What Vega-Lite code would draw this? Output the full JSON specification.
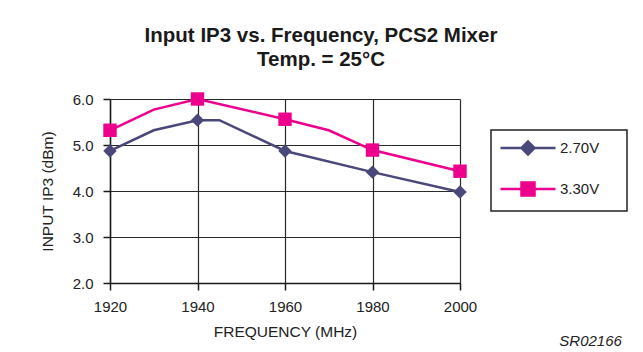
{
  "$schema": "https://vega.github.io/schema/vega-lite/v6.json",
  "width": 350,
  "height": 184,
  "autosize": {"type": "none"},
  "padding": {"left": 110, "top": 99, "right": 183, "bottom": 69},
  "background": "white",
  "title": {
    "text": ["Input IP3 vs. Frequency, PCS2 Mixer", "Temp. = 25°C"],
    "font": "Liberation Sans",
    "fontSize": 20.5,
    "fontWeight": "bold",
    "color": "#1a1a1a",
    "anchor": "middle",
    "frame": "group",
    "dx": 36,
    "offset": 22,
    "lineHeight": 24
  },
  "data": {
    "values": [
      {"series": "2.70V", "freq": 1920, "ip3": 4.87},
      {"series": "2.70V", "freq": 1930, "ip3": 5.32},
      {"series": "2.70V", "freq": 1940, "ip3": 5.54},
      {"series": "2.70V", "freq": 1945, "ip3": 5.54},
      {"series": "2.70V", "freq": 1960, "ip3": 4.87},
      {"series": "2.70V", "freq": 1980, "ip3": 4.41},
      {"series": "2.70V", "freq": 2000, "ip3": 3.98},
      {"series": "3.30V", "freq": 1920, "ip3": 5.32},
      {"series": "3.30V", "freq": 1930, "ip3": 5.77},
      {"series": "3.30V", "freq": 1940, "ip3": 6.0},
      {"series": "3.30V", "freq": 1960, "ip3": 5.56},
      {"series": "3.30V", "freq": 1970, "ip3": 5.32},
      {"series": "3.30V", "freq": 1980, "ip3": 4.89},
      {"series": "3.30V", "freq": 2000, "ip3": 4.43}
    ]
  },
  "config": {
    "font": "Liberation Sans",
    "view": {"stroke": null},
    "axis": {
      "labelFont": "Liberation Sans",
      "titleFont": "Liberation Sans",
      "labelFontSize": 15,
      "titleFontSize": 15.5,
      "titleFontWeight": "normal",
      "labelColor": "#222222",
      "titleColor": "#222222",
      "domainColor": "#1a1a1a",
      "domainWidth": 1.5,
      "tickColor": "#1a1a1a",
      "tickWidth": 1.5,
      "tickSize": 7,
      "gridColor": "#2a2a2a",
      "gridWidth": 1.2,
      "gridOpacity": 1,
      "labelFlush": false
    }
  },
  "layer": [
    {
      "mark": {"type": "line", "strokeWidth": 2.5},
      "encoding": {
        "x": {
          "field": "freq",
          "type": "quantitative",
          "scale": {"domain": [1920, 2000], "nice": false, "zero": false},
          "axis": {
            "values": [1920, 1940, 1960, 1980, 2000],
            "format": "d",
            "title": "FREQUENCY (MHz)",
            "labelPadding": 9,
            "titlePadding": 10,
            "grid": true
          }
        },
        "y": {
          "field": "ip3",
          "type": "quantitative",
          "scale": {"domain": [2, 6], "nice": false, "zero": false},
          "axis": {
            "values": [2, 3, 4, 5, 6],
            "format": ".1f",
            "title": "INPUT IP3 (dBm)",
            "labelPadding": 10,
            "titlePadding": 17,
            "grid": true
          }
        },
        "color": {
          "field": "series",
          "type": "nominal",
          "scale": {"domain": ["2.70V", "3.30V"], "range": ["#4a477a", "#ec008c"]},
          "legend": {
            "title": null,
            "orient": "none",
            "legendX": 381,
            "legendY": 31,
            "padding": 10,
            "strokeColor": "#222222",
            "fillColor": "white",
            "rowPadding": 17,
            "labelFontSize": 15,
            "labelFont": "Liberation Sans",
            "labelColor": "#222222",
            "symbolSize": 169,
            "symbolOffset": 19,
            "labelOffset": 24,
            "encode": {
              "legend": {
                "update": {
                  "strokeWidth": {"value": 1.5}
                }
              },
              "symbols": {
                "enter": {
                  "shape": {"signal": "datum.value === '2.70V' ? 'M-4.23,0L-1,0M-1,0L0,-1L1,0L0,1ZM1,0L4.23,0M12.9,0' : 'M-4.23,0L-1,0M-1,-1L1,-1L1,1L-1,1ZM1,0L4.23,0M12.9,0'"}
                },
                "update": {
                  "shape": {"signal": "datum.value === '2.70V' ? 'M-4.23,0L-1,0M-1,0L0,-1L1,0L0,1ZM1,0L4.23,0M12.9,0' : 'M-4.23,0L-1,0M-1,-1L1,-1L1,1L-1,1ZM1,0L4.23,0M12.9,0'"},
                  "fill": {"signal": "datum.value === '2.70V' ? '#4a477a' : '#ec008c'"},
                  "stroke": {"signal": "datum.value === '2.70V' ? '#4a477a' : '#ec008c'"},
                  "strokeWidth": {"value": 2.5},
                  "opacity": {"value": 1},
                  "fillOpacity": {"value": 1}
                }
              }
            }
          }
        }
      }
    },
    {
      "transform": [{"filter": "datum.freq % 20 == 0"}],
      "mark": {"type": "point", "filled": true, "opacity": 1, "size": 180},
      "encoding": {
        "x": {"field": "freq", "type": "quantitative"},
        "y": {"field": "ip3", "type": "quantitative"},
        "color": {"field": "series", "type": "nominal"},
        "shape": {
          "condition": {"test": "datum.series === '2.70V'", "value": "diamond"},
          "value": "square"
        }
      }
    },
    {
      "data": {"values": [{"code": "SR02166"}]},
      "mark": {"type": "text", "align": "right", "baseline": "alphabetic", "fontStyle": "italic", "fontWeight": "normal", "fontSize": 15, "font": "Liberation Sans", "color": "#222222"},
      "encoding": {
        "x": {"datum": 2037},
        "y": {"datum": 0.62},
        "text": {"field": "code", "type": "nominal"}
      }
    }
  ]
}
